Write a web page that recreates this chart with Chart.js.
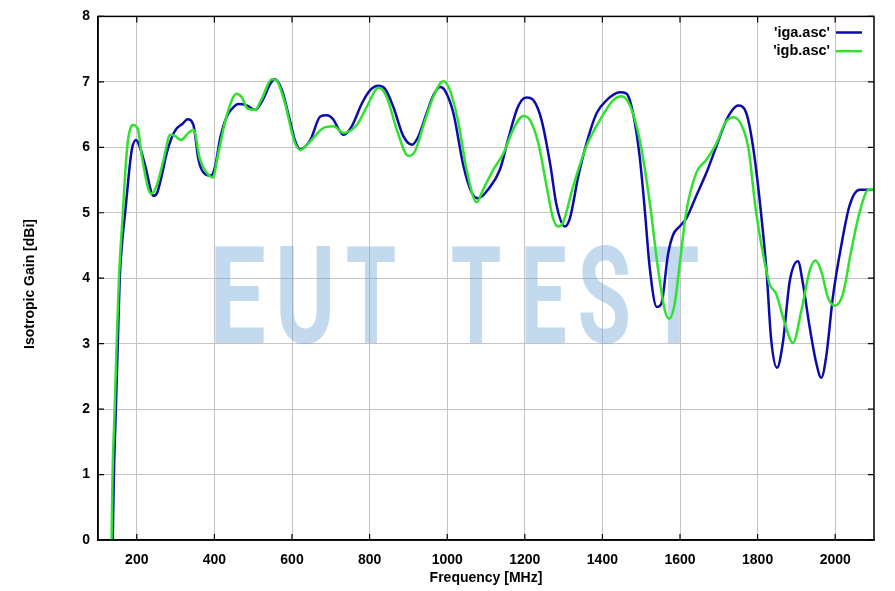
<!DOCTYPE html>
<html><head><meta charset="utf-8">
<script src="https://cdn.jsdelivr.net/npm/chart.js@4/dist/chart.umd.min.js"></script>
<style>html,body{margin:0;padding:0;background:#fff}#wrap{width:895px;height:591px}</style>
</head><body><div id="wrap"><canvas id="c" width="895" height="591"></canvas></div>
<script>
// ---- data ----
const freqA = [138,141,146,151,156,163,170,179,187,198,208,222,243,252,264,277,290,303,318,331,346,359,376,391,402,415,432,447,462,483,505,526,545,556,573,595,608,621,647,673,690,707,720,733,754,780,801,823,840,861,887,909,926,947,964,982,994,1016,1042,1063,1080,1106,1136,1157,1179,1192,1205,1222,1243,1265,1282,1303,1316,1338,1359,1385,1411,1445,1462,1479,1496,1509,1522,1540,1552,1569,1582,1599,1616,1642,1668,1694,1720,1735,1750,1771,1788,1805,1823,1835,1850,1865,1883,1904,1917,1934,1951,1964,1977,1994,2016,2037,2063,2093,2100];
const gainA = [0,1.0,2.0,3.0,4.0,4.6,5.0,5.56,5.96,6.11,6.0,5.71,5.26,5.3,5.56,5.91,6.15,6.29,6.36,6.43,6.34,5.81,5.59,5.57,5.71,6.14,6.47,6.6,6.66,6.64,6.57,6.74,6.98,7.04,6.89,6.4,6.1,5.97,6.11,6.47,6.49,6.42,6.28,6.19,6.32,6.67,6.87,6.94,6.89,6.62,6.17,6.04,6.17,6.52,6.79,6.92,6.87,6.52,5.71,5.31,5.22,5.36,5.66,6.12,6.57,6.72,6.76,6.72,6.42,5.76,5.11,4.79,4.91,5.56,6.06,6.52,6.72,6.84,6.82,6.52,5.86,5.06,4.16,3.56,3.61,4.36,4.66,4.79,4.91,5.26,5.61,6.02,6.42,6.57,6.64,6.52,6.02,5.21,4.11,3.06,2.63,3.01,3.96,4.26,3.91,3.26,2.71,2.48,2.81,3.71,4.51,5.11,5.35,5.35,5.35];
const freqB = [135,137.5,143,148,154,164,170,177,184,191,203,213,230,237,251,269,286,299,314,333,346,363,380,396,410,432,457,470,486,505,522,548,560,582,600,608,621,647,677,707,733,767,793,823,844,870,900,917,939,964,990,1007,1029,1050,1076,1093,1119,1145,1170,1196,1213,1235,1256,1273,1286,1299,1325,1359,1394,1428,1449,1471,1496,1522,1543,1561,1572,1586,1599,1616,1642,1668,1694,1716,1738,1760,1777,1795,1816,1831,1848,1870,1891,1913,1934,1949,1964,1981,1999,2020,2041,2063,2085,2100];
const gainB = [0,1.0,2.0,3.0,4.0,5.0,5.6,6.1,6.3,6.34,6.27,5.86,5.36,5.29,5.41,5.81,6.19,6.17,6.11,6.22,6.27,5.81,5.61,5.54,5.91,6.49,6.82,6.77,6.59,6.57,6.74,7.04,7.02,6.67,6.22,6.06,5.96,6.09,6.28,6.32,6.22,6.34,6.62,6.91,6.77,6.27,5.87,5.94,6.34,6.77,7.01,6.87,6.37,5.66,5.16,5.36,5.66,5.91,6.27,6.48,6.42,6.06,5.41,4.91,4.79,4.86,5.41,6.02,6.42,6.72,6.78,6.64,6.12,5.16,4.16,3.51,3.38,3.6,4.2,5.01,5.61,5.81,6.06,6.37,6.46,6.32,5.96,5.06,4.31,3.91,3.76,3.31,3.01,3.51,4.11,4.27,4.11,3.71,3.58,3.76,4.41,5.01,5.35,5.36];
const xTicks = [200,400,600,800,1000,1200,1400,1600,1800,2000];
const yTicks = [0,1,2,3,4,5,6,7,8];
const seriesLabels = ["'iga.asc'", "'igb.asc'"];
const xTitle = 'Frequency [MHz]';
const yTitle = 'Isotropic Gain [dBi]';
const watermarkText = 'EUT TEST';

// ---- styles ----
const FONT = '"Liberation Sans", Arial, Helvetica, sans-serif';
const BLUE = '#0b0bab';
const GREEN = '#2fe22f';

const toPts = (xs, ys) => xs.map((x, i) => ({x: x, y: ys[i]}));

const decor = {
  id: 'decor',
  beforeDatasetsDraw(chart) {
    // watermark
    const {ctx} = chart;
    const boxes = [[215,264],[280,330],[347,395],null,[452,500],[525,565],[580,628],[650,698]];
    ctx.save();
    ctx.fillStyle = 'rgba(105,160,212,0.4)';
    ctx.font = 'bold 100px Roboto, "Liberation Sans", sans-serif';
    const capA = ctx.measureText('E').actualBoundingBoxAscent;
    const size = 100 * 98 / capA;
    ctx.font = 'bold ' + size + 'px Roboto, "Liberation Sans", sans-serif';
    ctx.textBaseline = 'alphabetic';
    const chars = watermarkText.split('');
    chars.forEach((ch, i) => {
      const b = boxes[i];
      if (!b || ch === ' ') return;
      const m = ctx.measureText(ch);
      const gl = -m.actualBoundingBoxLeft, gr = m.actualBoundingBoxRight;
      const sx = (b[1] - b[0]) / (gr - gl);
      ctx.save();
      ctx.translate(b[0], 343);
      ctx.scale(sx, 1);
      ctx.fillText(ch, -gl, 0);
      ctx.restore();
    });
    ctx.restore();
  },
  afterDraw(chart) {
    const {ctx, chartArea: a, scales} = chart;
    ctx.save();
    // frame
    ctx.strokeStyle = '#000';
    ctx.lineWidth = 1.5;
    ctx.strokeRect(a.left, a.top, a.right - a.left, a.bottom - a.top);
    // inward tick marks
    ctx.lineWidth = 1.2;
    ctx.beginPath();
    xTicks.forEach(v => {
      const px = scales.x.getPixelForValue(v);
      ctx.moveTo(px, a.bottom); ctx.lineTo(px, a.bottom - 6);
      ctx.moveTo(px, a.top); ctx.lineTo(px, a.top + 6);
    });
    yTicks.forEach(v => {
      const py = scales.y.getPixelForValue(v);
      ctx.moveTo(a.left, py); ctx.lineTo(a.left + 6, py);
      ctx.moveTo(a.right, py); ctx.lineTo(a.right - 6, py);
    });
    ctx.stroke();
    // axis titles
    ctx.fillStyle = '#000';
    ctx.font = 'bold 14px ' + FONT;
    ctx.textAlign = 'center';
    ctx.textBaseline = 'middle';
    ctx.fillText(xTitle, (a.left + a.right) / 2, 578);
    ctx.save();
    ctx.translate(30.5, 284);
    ctx.rotate(-Math.PI / 2);
    ctx.fillText(yTitle, 0, 0);
    ctx.restore();
    // legend
    ctx.font = 'bold 14.5px ' + FONT;
    ctx.textAlign = 'right';
    chart.data.datasets.forEach((ds, i) => {
      const y = 32.5 + i * 18.7;
      ctx.fillStyle = '#000';
      ctx.fillText(ds.label, 830, y);
      ctx.strokeStyle = ds.borderColor;
      ctx.lineWidth = 2.5;
      ctx.beginPath();
      ctx.moveTo(836, y); ctx.lineTo(862, y);
      ctx.stroke();
    });
    ctx.restore();
  }
};

new Chart(document.getElementById('c'), {
  type: 'line',
  data: {
    datasets: [
      {label: seriesLabels[0], data: toPts(freqA, gainA), borderColor: BLUE, borderWidth: 2.5, pointRadius: 0, cubicInterpolationMode: 'monotone', fill: false, order: 1},
      {label: seriesLabels[1], data: toPts(freqB, gainB), borderColor: GREEN, borderWidth: 2.5, pointRadius: 0, cubicInterpolationMode: 'monotone', fill: false, order: 0}
    ]
  },
  options: {
    responsive: false,
    animation: false,
    devicePixelRatio: 1,
    layout: {padding: {left: 0, right: 21, top: 8, bottom: 0}},
    plugins: {legend: {display: false}, tooltip: {enabled: false}},
    scales: {
      x: {
        type: 'linear', min: 100, max: 2100,
        afterBuildTicks: s => { s.ticks = xTicks.map(v => ({value: v})); },
        afterFit: s => { s.height = 51; },
        grid: {color: '#c4c4c4', lineWidth: 1, drawTicks: false},
        border: {display: true, color: '#000', width: 1.5},
        ticks: {color: '#000', font: {family: FONT, size: 14, weight: 'bold'}, padding: 12, maxRotation: 0, autoSkip: false, callback: v => String(v)}
      },
      y: {
        type: 'linear', min: 0, max: 8,
        afterBuildTicks: s => { s.ticks = yTicks.map(v => ({value: v})); },
        afterFit: s => { s.width = 98; },
        grid: {color: '#c4c4c4', lineWidth: 1, drawTicks: false},
        border: {display: true, color: '#000', width: 1.5},
        ticks: {color: '#000', font: {family: FONT, size: 14, weight: 'bold'}, padding: 8, autoSkip: false, callback: v => String(v)}
      }
    }
  },
  plugins: [decor]
});
</script>
</body></html>
